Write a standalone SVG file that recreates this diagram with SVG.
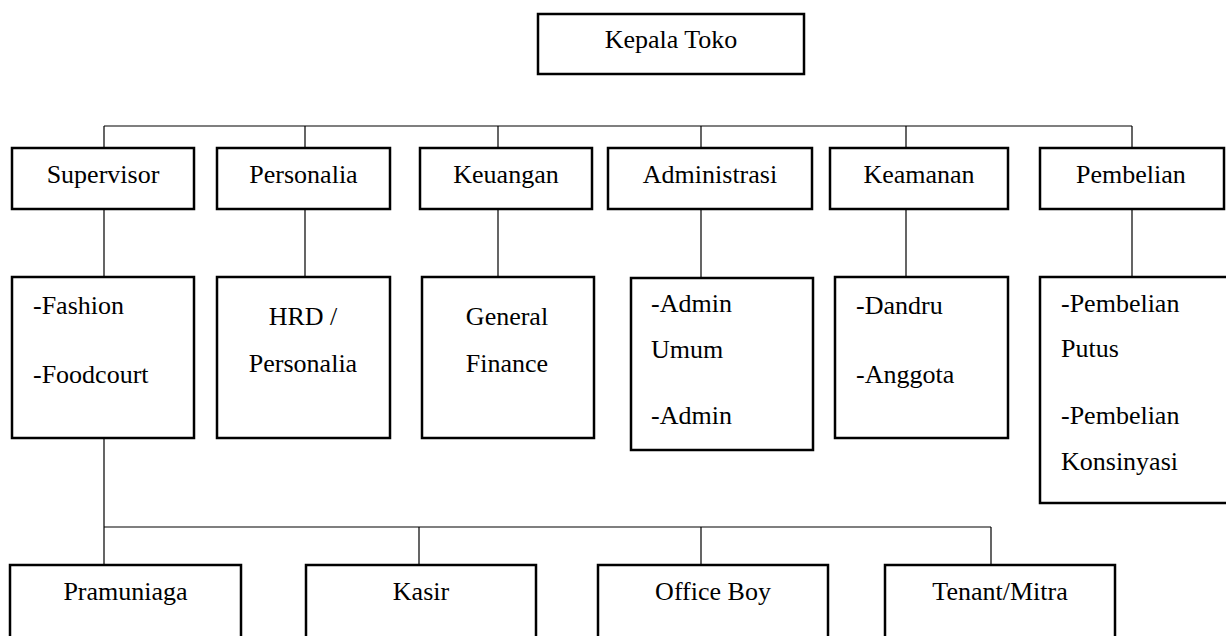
<svg xmlns="http://www.w3.org/2000/svg" width="1226" height="636" viewBox="0 0 1226 636">
<style>
.box{fill:#fff;stroke:#000;stroke-width:2.5}
.ln{stroke:#000;stroke-width:1.2;fill:none}
text{font-family:"Liberation Serif","Times New Roman",serif;font-size:26px;fill:#000}
.c{text-anchor:middle}
</style>
<rect width="1226" height="636" fill="#fff"/>
<g id="connectors">
<path class="ln" d="M104,126H1132M104,126V147M305,126V147M498,126V147M701,126V147M906,126V147M1132,126V147"/>
<path class="ln" d="M104,210V276M305,210V276M498,210V276M701,210V277M906,210V276M1132,210V276"/>
<path class="ln" d="M104,439V564M104,527H991M419,527V564M701,527V564M991,527V564"/>
</g>
<g id="kepala-toko"><rect class="box" x="538" y="14" width="266" height="60"/><text class="c" x="671" y="48">Kepala Toko</text></g>
<g id="supervisor"><rect class="box" x="12" y="148" width="182" height="61"/><text class="c" x="103" y="183">Supervisor</text></g>
<g id="personalia"><rect class="box" x="217" y="148" width="173" height="61"/><text class="c" x="303.5" y="183">Personalia</text></g>
<g id="keuangan"><rect class="box" x="420" y="148" width="172" height="61"/><text class="c" x="506" y="183">Keuangan</text></g>
<g id="administrasi"><rect class="box" x="608" y="148" width="204" height="61"/><text class="c" x="710" y="183">Administrasi</text></g>
<g id="keamanan"><rect class="box" x="830" y="148" width="178" height="61"/><text class="c" x="919" y="183">Keamanan</text></g>
<g id="pembelian"><rect class="box" x="1040" y="148" width="184" height="61"/><text class="c" x="1131" y="183">Pembelian</text></g>
<g id="supervisor-sub"><rect class="box" x="12" y="277" width="182" height="161"/><text x="33" y="314">-Fashion</text><text x="33" y="383">-Foodcourt</text></g>
<g id="hrd"><rect class="box" x="217" y="277" width="173" height="161"/><text class="c" x="303" y="325">HRD /</text><text class="c" x="303" y="372">Personalia</text></g>
<g id="general-finance"><rect class="box" x="422" y="277" width="172" height="161"/><text class="c" x="507" y="325">General</text><text class="c" x="507" y="372">Finance</text></g>
<g id="admin-sub"><rect class="box" x="631" y="278" width="182" height="172"/><text x="651" y="312">-Admin</text><text x="651" y="358">Umum</text><text x="651" y="424">-Admin</text></g>
<g id="keamanan-sub"><rect class="box" x="835" y="277" width="173" height="161"/><text x="856" y="314">-Dandru</text><text x="856" y="383">-Anggota</text></g>
<g id="pembelian-sub"><rect class="box" x="1040" y="277" width="200" height="226"/><text x="1061" y="312">-Pembelian</text><text x="1061" y="357">Putus</text><text x="1061" y="424">-Pembelian</text><text x="1061" y="470">Konsinyasi</text></g>
<g id="pramuniaga"><rect class="box" x="10" y="565" width="231" height="90"/><text class="c" x="125.5" y="600">Pramuniaga</text></g>
<g id="kasir"><rect class="box" x="306" y="565" width="230" height="90"/><text class="c" x="421" y="600">Kasir</text></g>
<g id="office-boy"><rect class="box" x="598" y="565" width="230" height="90"/><text class="c" x="713" y="600">Office Boy</text></g>
<g id="tenant-mitra"><rect class="box" x="885" y="565" width="230" height="90"/><text class="c" x="1000" y="600">Tenant/Mitra</text></g>
</svg>
